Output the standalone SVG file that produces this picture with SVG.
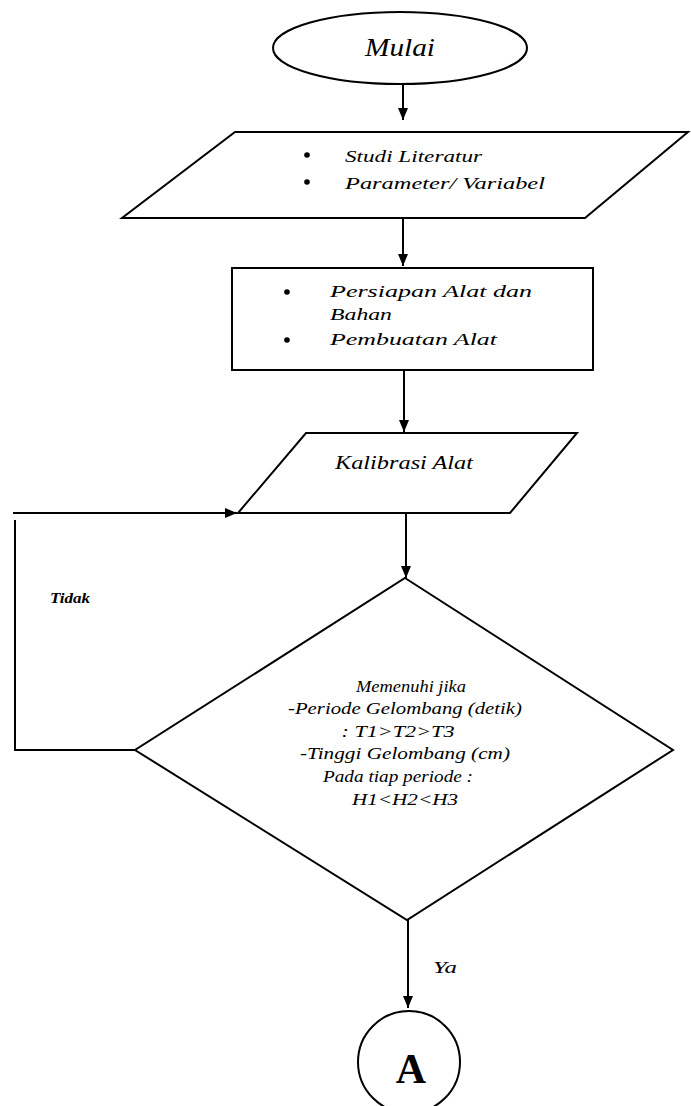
<svg xmlns="http://www.w3.org/2000/svg" width="691" height="1106" viewBox="0 0 691 1106">
<style>
.shape{fill:#fff;stroke:#000;stroke-width:2}
.line{fill:none;stroke:#000;stroke-width:2}
.t{font-family:"Liberation Serif","DejaVu Serif",serif;font-style:italic;fill:#000}
.c{text-anchor:middle}
</style>
<defs>
<marker id="ah" viewBox="0 0 12 10" refX="12" refY="5" markerWidth="12" markerHeight="10" markerUnits="userSpaceOnUse" orient="auto">
<path d="M0,0 L12,5 L0,10 Z" fill="#000"/>
</marker>
</defs>
<rect width="691" height="1106" fill="#fff"/>
<g id="connectors">
<line class="line" x1="403" y1="84" x2="403" y2="120" marker-end="url(#ah)"/>
<line class="line" x1="403" y1="218" x2="403" y2="266" marker-end="url(#ah)"/>
<line class="line" x1="404" y1="370" x2="404" y2="432" marker-end="url(#ah)"/>
<line class="line" x1="406" y1="513" x2="406" y2="578" marker-end="url(#ah)"/>
<line class="line" x1="408" y1="920" x2="408" y2="1008" marker-end="url(#ah)"/>
<polyline class="line" points="135,750 15,750 15,520"/>
<line class="line" x1="13" y1="513" x2="237" y2="513" marker-end="url(#ah)"/>
<text class="t" x="50" y="603" font-size="15" font-weight="bold" textLength="40" lengthAdjust="spacingAndGlyphs">Tidak</text>
<text class="t" x="433" y="973" font-size="17" textLength="24" lengthAdjust="spacingAndGlyphs">Ya</text>
</g>
<g id="mulai">
<ellipse class="shape" cx="400" cy="48" rx="127" ry="36"/>
<text class="t c" x="400" y="56" font-size="25" textLength="70" lengthAdjust="spacingAndGlyphs">Mulai</text>
</g>
<g id="studi">
<polygon class="shape" points="235,132 688,132 585,218 122,218"/>
<circle cx="307" cy="155" r="2.8"/>
<circle cx="307" cy="182" r="2.8"/>
<text class="t" x="345" y="162" font-size="17" textLength="137" lengthAdjust="spacingAndGlyphs">Studi Literatur</text>
<text class="t" x="345" y="189" font-size="17" textLength="200" lengthAdjust="spacingAndGlyphs">Parameter/ Variabel</text>
</g>
<g id="persiapan">
<rect class="shape" x="232" y="268" width="361" height="102"/>
<circle cx="287" cy="292" r="2.8"/>
<circle cx="287" cy="340" r="2.8"/>
<text class="t" x="330" y="297" font-size="17" textLength="202" lengthAdjust="spacingAndGlyphs">Persiapan Alat dan</text>
<text class="t" x="330" y="320" font-size="17" textLength="62" lengthAdjust="spacingAndGlyphs">Bahan</text>
<text class="t" x="330" y="345" font-size="17" textLength="167" lengthAdjust="spacingAndGlyphs">Pembuatan Alat</text>
</g>
<g id="kalibrasi">
<polygon class="shape" points="306,433 577,433 510,513 238,513"/>
<text class="t" x="335" y="469" font-size="18" textLength="138" lengthAdjust="spacingAndGlyphs">Kalibrasi Alat</text>
</g>
<g id="keputusan">
<polygon class="shape" points="405,578 673,750 407,920 135,750"/>
<text class="t c" x="411" y="692" font-size="17" textLength="110" lengthAdjust="spacingAndGlyphs">Memenuhi jika</text>
<text class="t c" x="405" y="714" font-size="17" textLength="234" lengthAdjust="spacingAndGlyphs">-Periode Gelombang (detik)</text>
<text class="t c" x="398" y="737" font-size="17" textLength="113" lengthAdjust="spacingAndGlyphs">: T1&gt;T2&gt;T3</text>
<text class="t c" x="405" y="759" font-size="17" textLength="210" lengthAdjust="spacingAndGlyphs">-Tinggi Gelombang (cm)</text>
<text class="t c" x="398" y="782" font-size="17" textLength="150" lengthAdjust="spacingAndGlyphs">Pada tiap periode :</text>
<text class="t c" x="405" y="805" font-size="17" textLength="106" lengthAdjust="spacingAndGlyphs">H1&lt;H2&lt;H3</text>
</g>
<g id="a">
<circle class="shape" cx="409" cy="1062" r="51"/>
<text x="411" y="1083" font-family="Liberation Serif, serif" font-weight="bold" font-size="42" text-anchor="middle">A</text>
</g>
</svg>
